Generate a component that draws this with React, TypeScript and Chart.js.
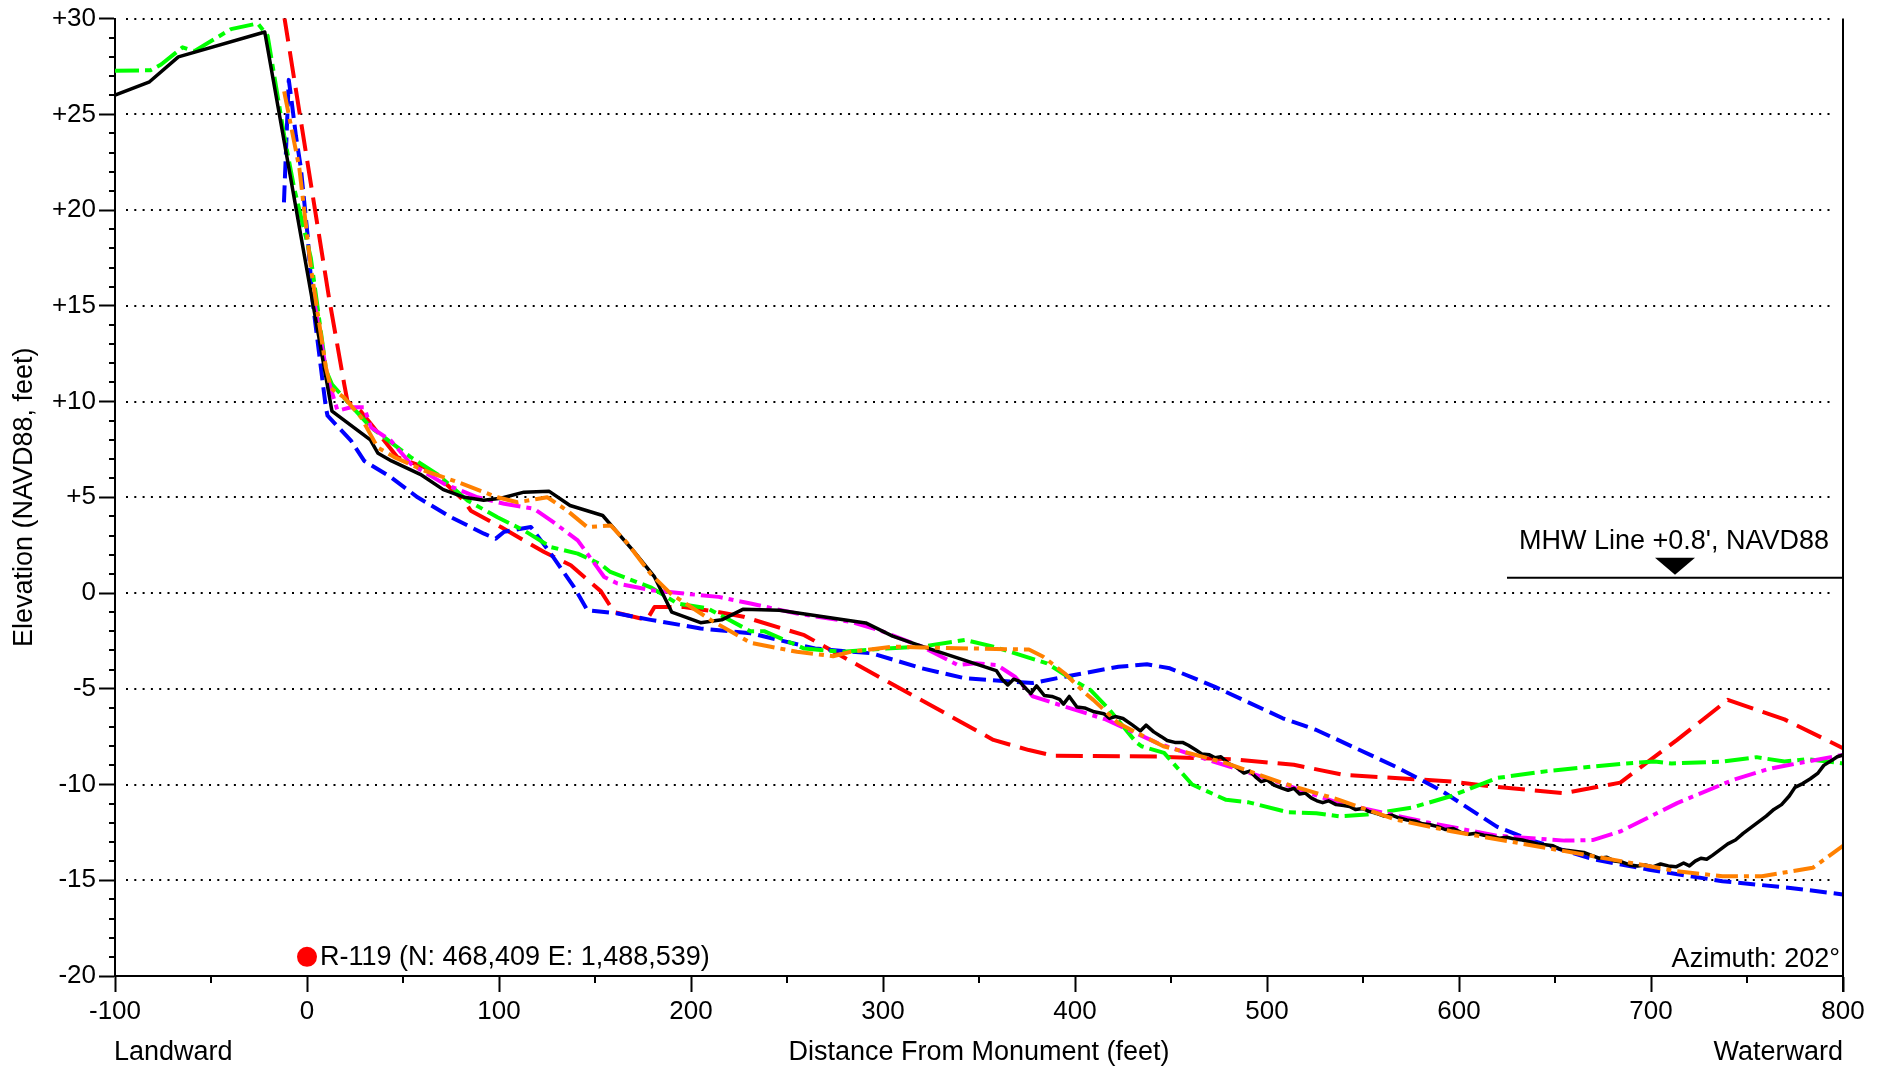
import React, { useEffect, useRef } from "react";
import { Chart, registerables } from "chart.js";

Chart.register(...registerables);

const W = 1885;
const H = 1068;

// Axis ranges and tick steps
const X_MIN = -100;
const X_MAX = 800;
const X_MAJOR = 100;
const X_MINOR = 50;
const Y_MIN = -20;
const Y_MAX = 30;
const Y_MAJOR = 5;
const Y_MINOR = 1;

// Annotations
const MHW_ELEV = 0.8;
const MHW_START = 625;
const MHW_MARK = 712.5;
const MHW_LABEL = "MHW Line +0.8', NAVD88";
const MONUMENT_X = 0;
const MONUMENT_Y = -19;
const MONUMENT_LABEL = "R-119 (N: 468,409 E: 1,488,539)";
const AZIMUTH_LABEL = "Azimuth: 202°";
const X_TITLE = "Distance From Monument (feet)";
const Y_TITLE = "Elevation (NAVD88, feet)";
const LEFT_LABEL = "Landward";
const RIGHT_LABEL = "Waterward";

// Profiles: [distance (ft), elevation (ft)]
const blackProfile: [number, number][] = [
  [-100, 26.0], [-82, 26.7], [-67, 28.0], [-22, 29.3], [13, 9.5], [33, 8.0], [37, 7.3], [44, 6.9],
  [59, 6.2], [71, 5.4], [82, 5.0], [92, 4.85], [101, 4.95], [113, 5.27], [126, 5.32], [137, 4.57],
  [154, 4.05], [170, 2.2], [181, 0.84], [190, -1.0], [205, -1.55], [216, -1.4], [227, -0.85],
  [246, -0.9], [291, -1.56], [305, -2.25], [320, -2.77], [359, -4.05], [362, -4.5], [365, -4.8],
  [368, -4.5], [371, -4.6], [374, -4.95], [377, -5.25], [380, -4.85], [384, -5.35], [388, -5.4],
  [392, -5.55], [394, -5.8], [397, -5.4], [401, -5.95], [405, -6.0], [410, -6.2], [415, -6.3],
  [418, -6.55], [421, -6.45], [425, -6.55], [430, -6.9], [434, -7.2], [437, -6.9], [441, -7.25],
  [445, -7.5], [448, -7.7], [452, -7.8], [456, -7.8], [459, -7.95], [463, -8.2], [466, -8.4],
  [470, -8.45], [473, -8.6], [476, -8.55], [480, -8.9], [484, -9.1], [488, -9.4], [491, -9.3],
  [494, -9.6], [497, -9.85], [500, -9.75], [504, -10.05], [508, -10.2], [511, -10.3], [514, -10.2],
  [517, -10.5], [520, -10.45], [523, -10.7], [526, -10.85], [529, -10.95], [532, -10.85],
  [536, -11.05], [540, -11.1], [543, -11.15], [546, -11.3], [550, -11.25], [553, -11.4],
  [557, -11.5], [561, -11.65], [565, -11.6], [569, -11.75], [573, -11.85], [577, -11.9],
  [581, -12.05], [585, -12.1], [589, -12.2], [593, -12.35], [597, -12.3], [601, -12.5],
  [605, -12.6], [609, -12.55], [613, -12.65], [617, -12.7], [621, -12.8], [625, -12.75],
  [629, -12.85], [633, -12.9], [637, -13.0], [641, -13.1], [645, -13.15], [649, -13.2],
  [653, -13.4], [657, -13.45], [661, -13.5], [665, -13.55], [669, -13.7], [673, -13.85],
  [677, -13.8], [681, -14.0], [685, -14.05], [689, -14.2], [693, -14.25], [697, -14.2],
  [701, -14.3], [705, -14.15], [709, -14.25], [713, -14.3], [717, -14.1], [720, -14.25],
  [723, -14.0], [726, -13.85], [729, -13.9], [732, -13.7], [736, -13.4], [740, -13.1],
  [744, -12.9], [748, -12.55], [752, -12.25], [756, -11.95], [760, -11.65], [764, -11.3],
  [768, -11.05], [772, -10.6], [775, -10.15], [779, -9.95], [783, -9.7], [787, -9.4],
  [790, -9.0], [794, -8.75], [797, -8.55], [800, -8.45],
];

const greenProfile: [number, number][] = [
  [-100, 27.28], [-81.5, 27.3], [-76, 27.6], [-64.8, 28.5], [-58.7, 28.3], [-39.6, 29.45],
  [-25.7, 29.75], [-20.5, 29.1], [-11.9, 23.9], [-6.7, 21.15], [2, 17.5], [10, 11.6], [13, 10.9],
  [21, 10.0], [33.3, 8.65], [54, 7.1], [68, 6.2], [83.6, 4.83], [99.2, 3.96], [113, 3.27],
  [127, 2.4], [141, 2.06], [153, 1.5], [158, 1.1], [179, 0.3], [193, -0.55], [208.7, -0.8],
  [231, -2.0], [238.4, -2.0], [259, -2.9], [279, -3.07], [301.7, -2.9], [320, -2.8],
  [342.6, -2.45], [357.5, -2.8], [385.4, -3.67], [398.4, -4.5], [408, -5.06], [418, -6.1],
  [431.9, -7.8], [434.6, -8.0], [446.4, -8.35], [461, -10.0], [478.7, -10.8], [490.5, -10.93],
  [511, -11.45], [525.7, -11.5], [537.4, -11.66], [552, -11.57], [575.7, -11.2], [596, -10.6],
  [619.7, -9.66], [646, -9.3], [669.6, -9.06], [687, -8.9], [702, -8.8], [710.8, -8.9],
  [737.3, -8.8], [755, -8.57], [769.5, -8.8], [781.3, -8.67], [800, -8.9],
];

const redProfile: [number, number][] = [
  [-12, 30.2], [11.5, 15.4], [19.4, 10.9], [21.1, 10.0], [28, 9.5], [47, 7.1], [61, 6.57],
  [71.4, 5.8], [82, 4.8], [85.3, 4.3], [101, 3.45], [123.5, 2.14], [137.4, 1.45], [153, 0.1],
  [160, -1.0], [177, -1.4], [181, -0.73], [196.4, -0.73], [205, -0.86], [213.7, -0.98],
  [227.4, -1.24], [259, -2.2], [286.8, -3.76], [357.5, -7.67], [376, -8.2], [389, -8.5],
  [443.5, -8.54], [484.6, -8.7], [514, -8.97], [540, -9.5], [596, -9.84], [617, -10.1],
  [654.8, -10.45], [684, -9.9], [713.6, -7.67], [740, -5.58], [769.5, -6.6], [800, -8.1],
];

const blueProfile: [number, number][] = [
  [-12, 20.4], [-9.5, 26.8], [-8.4, 26.0], [-5.8, 23.9], [-3.2, 22.2], [0.3, 18.7], [2.9, 15.25],
  [7.2, 11.8], [9.8, 9.7], [10.7, 9.26], [22.9, 7.96], [29.8, 6.9], [43.7, 6.05], [57.6, 5.0],
  [75, 3.96], [92.2, 3.1], [98.3, 2.84], [102.7, 3.2], [116.6, 3.45], [127, 2.06], [139, 0.32],
  [146, -0.9], [161.7, -1.07], [179, -1.4], [205, -1.85], [231, -2.1], [264.6, -2.9],
  [294.3, -3.15], [320.3, -3.93], [342.6, -4.45], [366.7, -4.63], [378, -4.7], [394.6, -4.37],
  [422.6, -3.85], [437.5, -3.72], [449.4, -3.93], [472.9, -4.9], [508.2, -6.54], [525.7, -7.15],
  [566.8, -9.06], [590, -10.27], [619.7, -12.2], [637.3, -12.9], [669.6, -13.9], [699, -14.45],
  [737.2, -15.05], [772.6, -15.4], [800, -15.74],
];

const magentaProfile: [number, number][] = [
  [3.7, 15.25], [10.7, 11.25], [15.9, 9.52], [22.9, 9.7], [29.8, 9.7], [33.3, 8.65], [43.7, 7.96],
  [54.1, 6.74], [71.4, 5.7], [88.8, 5.0], [102.7, 4.66], [118.3, 4.4], [127, 3.8], [141, 2.75],
  [146, 2.06], [154.8, 0.84], [161.7, 0.5], [179, 0.15], [196.4, -0.03], [214.4, -0.2],
  [231, -0.55], [255.2, -1.07], [283, -1.5], [298, -1.94], [320.3, -2.8], [339, -3.76],
  [348.4, -3.67], [359.4, -3.76], [368.7, -4.37], [378, -5.4], [416, -6.6], [443, -7.84],
  [458, -8.35], [502, -9.75], [537.5, -10.97], [584.5, -12.0], [619.7, -12.67], [655, -12.93],
  [669.6, -12.9], [684.3, -12.44], [713.6, -10.97], [743, -9.75], [760.7, -9.2], [772.4, -8.97],
  [800, -8.45],
];

const orangeProfile: [number, number][] = [
  [-11.9, 26.2], [-4, 22.2], [2, 17.0], [9.8, 11.8], [12.4, 10.7], [19.4, 10.2], [28, 9.2],
  [36.8, 7.6], [45.4, 7.1], [61, 6.4], [78.3, 5.8], [99.2, 5.0], [109.6, 4.74], [125.2, 5.0],
  [135.6, 4.3], [146, 3.44], [158.2, 3.53], [166.9, 2.6], [179, 1.0], [189.4, -0.03],
  [211, -1.45], [231, -2.6], [255.2, -3.07], [274, -3.3], [283, -3.07], [305.5, -2.8],
  [320.3, -2.84], [348.4, -2.9], [376, -2.95], [383.5, -3.33], [394.7, -4.2], [405.4, -5.24],
  [409.5, -5.58], [422.6, -6.8], [446, -8.0], [478.7, -8.88], [508.2, -9.92], [537.5, -10.8],
  [566.8, -11.83], [596, -12.44], [625.6, -12.96], [655, -13.48], [684.4, -14.0],
  [713.7, -14.53], [737.2, -14.79], [757.8, -14.79], [784.2, -14.35], [800, -13.2],
];

const SERIES = [
  { label: "Orange survey", data: orangeProfile, color: "#FF8000", dash: [22, 6, 5, 6], width: 4 },
  { label: "Black survey", data: blackProfile, color: "#000000", dash: [], width: 3.5 },
  { label: "Magenta survey", data: magentaProfile, color: "#FF00FF", dash: [22, 6, 5, 6], width: 4 },
  { label: "Green survey", data: greenProfile, color: "#00FF00", dash: [24, 6, 7, 6], width: 4 },
  { label: "Blue survey", data: blueProfile, color: "#0000FF", dash: [17, 7], width: 4 },
  { label: "Red survey", data: redProfile, color: "#FF0000", dash: [27, 10], width: 4 },
];

const FONT_FAMILY = '"Liberation Sans", Arial, Helvetica, sans-serif';
const TICK_FONT_SIZE = 26;
const TEXT_FONT = `27px ${FONT_FAMILY}`;

const decorPlugin = {
  id: "decor",
  beforeDatasetsDraw(chart: any) {
    const { ctx, chartArea: ca, scales } = chart;
    const y = scales.y;
    ctx.save();
    ctx.strokeStyle = "#000";
    ctx.lineWidth = 2;
    ctx.setLineDash([2, 6.3]);
    for (let v = Y_MIN + Y_MAJOR; v <= Y_MAX; v += Y_MAJOR) {
      const py = Math.round(y.getPixelForValue(v));
      ctx.beginPath();
      ctx.moveTo(ca.left + 11, py);
      ctx.lineTo(ca.right - 9, py);
      ctx.stroke();
    }
    ctx.restore();
  },
  afterDraw(chart: any) {
    const { ctx, chartArea: ca, scales } = chart;
    const x = scales.x;
    const y = scales.y;
    ctx.save();
    ctx.setLineDash([]);
    ctx.strokeStyle = "#000";
    ctx.fillStyle = "#000";
    ctx.lineWidth = 2;

    // minor ticks on y
    for (let v = Y_MIN; v <= Y_MAX; v += Y_MINOR) {
      if (v % Y_MAJOR === 0) continue;
      const py = Math.round(y.getPixelForValue(v));
      ctx.beginPath();
      ctx.moveTo(ca.left - 6, py);
      ctx.lineTo(ca.left, py);
      ctx.stroke();
    }
    // minor ticks on x
    for (let v = X_MIN; v <= X_MAX; v += X_MINOR) {
      if (v % X_MAJOR === 0) continue;
      const px = Math.round(x.getPixelForValue(v));
      ctx.beginPath();
      ctx.moveTo(px, ca.bottom);
      ctx.lineTo(px, ca.bottom + 7);
      ctx.stroke();
    }
    // right frame line
    ctx.beginPath();
    ctx.moveTo(ca.right, ca.top);
    ctx.lineTo(ca.right, ca.bottom + 16);
    ctx.stroke();

    // MHW line with marker
    const mhwY = y.getPixelForValue(MHW_ELEV);
    ctx.beginPath();
    ctx.moveTo(x.getPixelForValue(MHW_START), mhwY);
    ctx.lineTo(ca.right, mhwY);
    ctx.stroke();
    const mx = x.getPixelForValue(MHW_MARK);
    ctx.beginPath();
    ctx.moveTo(mx, mhwY - 3);
    ctx.lineTo(mx - 20, mhwY - 20);
    ctx.lineTo(mx + 20, mhwY - 20);
    ctx.closePath();
    ctx.fill();

    ctx.font = TEXT_FONT;
    ctx.textBaseline = "alphabetic";
    ctx.textAlign = "right";
    ctx.fillText(MHW_LABEL, ca.right - 14, mhwY - 29);

    // Azimuth
    ctx.fillText(AZIMUTH_LABEL, ca.right - 3, ca.bottom - 9);

    // Monument marker
    const dx = x.getPixelForValue(MONUMENT_X);
    const dy = y.getPixelForValue(MONUMENT_Y);
    ctx.fillStyle = "#FF0000";
    ctx.beginPath();
    ctx.arc(dx, dy, 10, 0, Math.PI * 2);
    ctx.fill();
    ctx.fillStyle = "#000";
    ctx.textAlign = "left";
    ctx.fillText(MONUMENT_LABEL, dx + 13, dy + 8);

    // bottom texts
    ctx.textAlign = "left";
    ctx.fillText(LEFT_LABEL, ca.left - 1, 1060);
    ctx.textAlign = "right";
    ctx.fillText(RIGHT_LABEL, ca.right, 1060);
    ctx.textAlign = "center";
    ctx.fillText(X_TITLE, (ca.left + ca.right) / 2, 1060);

    // y title
    ctx.save();
    ctx.translate(32, (ca.top + ca.bottom) / 2);
    ctx.rotate(-Math.PI / 2);
    ctx.textAlign = "center";
    ctx.fillText(Y_TITLE, 0, 0);
    ctx.restore();

    ctx.restore();
  },
};

export default function App() {
  const ref = useRef<HTMLCanvasElement>(null);

  useEffect(() => {
    document.body.style.margin = "0";
    document.body.style.overflow = "hidden";
    const canvas = ref.current;
    if (!canvas) return;
    const chart = new Chart(canvas, {
      type: "line",
      data: {
        datasets: SERIES.map((s) => ({
          label: s.label,
          data: s.data.map(([px, py]) => ({ x: px, y: py })),
          borderColor: s.color,
          backgroundColor: s.color,
          borderWidth: s.width,
          borderDash: s.dash,
          pointRadius: 0,
          pointHoverRadius: 0,
          tension: 0,
          fill: false,
          borderCapStyle: "butt",
          borderJoinStyle: "round",
        })),
      },
      options: {
        responsive: false,
        animation: false,
        devicePixelRatio: 1,
        layout: { padding: { left: 0, top: 17, right: 42, bottom: 0 } },
        plugins: {
          legend: { display: false },
          tooltip: { enabled: false },
          title: { display: false },
        },
        events: [],
        scales: {
          x: {
            type: "linear",
            min: X_MIN,
            max: X_MAX,
            afterFit: (s: any) => {
              s.height = H - 976;
            },
            ticks: {
              stepSize: X_MAJOR,
              autoSkip: false,
              maxRotation: 0,
              color: "#000",
              padding: 4,
              font: { family: FONT_FAMILY, size: TICK_FONT_SIZE },
              callback: (v: any) => String(v),
            },
            grid: {
              display: true,
              drawOnChartArea: false,
              drawTicks: true,
              tickLength: 16,
              tickWidth: 2,
              tickColor: "#000",
              color: "#000",
            },
            border: { display: true, color: "#000", width: 2 },
          },
          y: {
            type: "linear",
            min: Y_MIN,
            max: Y_MAX,
            afterFit: (s: any) => {
              s.width = 115;
            },
            ticks: {
              stepSize: Y_MAJOR,
              autoSkip: false,
              color: "#000",
              padding: 3,
              font: { family: FONT_FAMILY, size: TICK_FONT_SIZE },
              callback: (v: any) => (Number(v) > 0 ? "+" + v : String(v)),
            },
            grid: {
              display: true,
              drawOnChartArea: false,
              drawTicks: true,
              tickLength: 16,
              tickWidth: 2,
              tickColor: "#000",
              color: "#000",
            },
            border: { display: true, color: "#000", width: 2 },
          },
        },
      },
      plugins: [decorPlugin],
    } as any);
    return () => chart.destroy();
  }, []);

  return (
    <div style={{ width: W, height: H, background: "#fff" }}>
      <canvas ref={ref} width={W} height={H} style={{ display: "block", width: W, height: H }} />
    </div>
  );
}
